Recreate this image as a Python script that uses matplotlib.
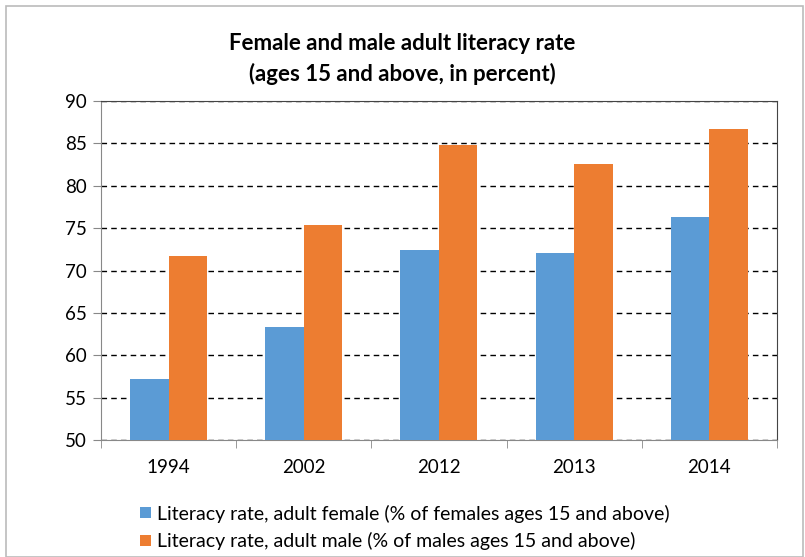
import numpy as np
import matplotlib
matplotlib.use("Agg")
import matplotlib.pyplot as plt
from matplotlib.patches import Rectangle

years = ["1994", "2002", "2012", "2013", "2014"]
female = [57.2, 63.3, 72.4, 72.1, 76.3]
male = [71.7, 75.4, 84.8, 82.6, 86.7]
female_label = "Literacy rate, adult female (% of females ages 15 and above)"
male_label = "Literacy rate, adult male (% of males ages 15 and above)"

plt.rcParams['font.family'] = ['Lato', 'DejaVu Sans']

fig = plt.figure(figsize=(8.05, 5.57), dpi=100)
ax = fig.add_axes([0.1255, 0.21, 0.8395, 0.6087])

x = np.arange(len(years))
w = 0.285
ax.bar(x - w / 2, female, w, color="#5B9BD5", label=female_label, zorder=3)
ax.bar(x + w / 2, male, w, color="#ED7D31", label=male_label, zorder=3)

ax.set_ylim(50, 90)
ax.set_xlim(-0.5, len(years) - 0.5)
ax.set_yticks(range(50, 91, 5))
ax.yaxis.grid(True, linestyle=(0, (4, 3)), color="black", linewidth=1.0, zorder=1)
ax.set_xticks(x)
ax.set_xticklabels(years)
ax.set_xticks(np.arange(-0.5, len(years)), minor=True)
ax.tick_params(axis="x", which="major", length=0, pad=14, labelsize=13.5)
ax.tick_params(axis="x", which="minor", length=6, color="#888888")
ax.tick_params(axis="y", length=6, color="#888888", labelsize=13.5, pad=4)
for s in ["left", "bottom"]:
    ax.spines[s].set_color("#888888")
for s in ["top", "right"]:
    ax.spines[s].set_color("#444444")

fig.text(0.5, 0.922, "Female and male adult literacy rate", ha="center", va="center",
         fontsize=16, fontweight="bold")
fig.text(0.5, 0.867, "(ages 15 and above, in percent)", ha="center", va="center",
         fontsize=16, fontweight="bold")

ax.legend(loc="upper left", bbox_to_anchor=(0.058, -0.19), frameon=False, fontsize=14,
          handlelength=0.55, handleheight=0.55, handletextpad=0.3, labelspacing=0.5,
          borderpad=0, borderaxespad=0)

fig.patches.append(Rectangle((0.008, 0.0), 0.99, 0.99, transform=fig.transFigure,
                             fill=False, edgecolor="#BBBBBB", linewidth=1.2))

fig.savefig("out.png", dpi=100)
